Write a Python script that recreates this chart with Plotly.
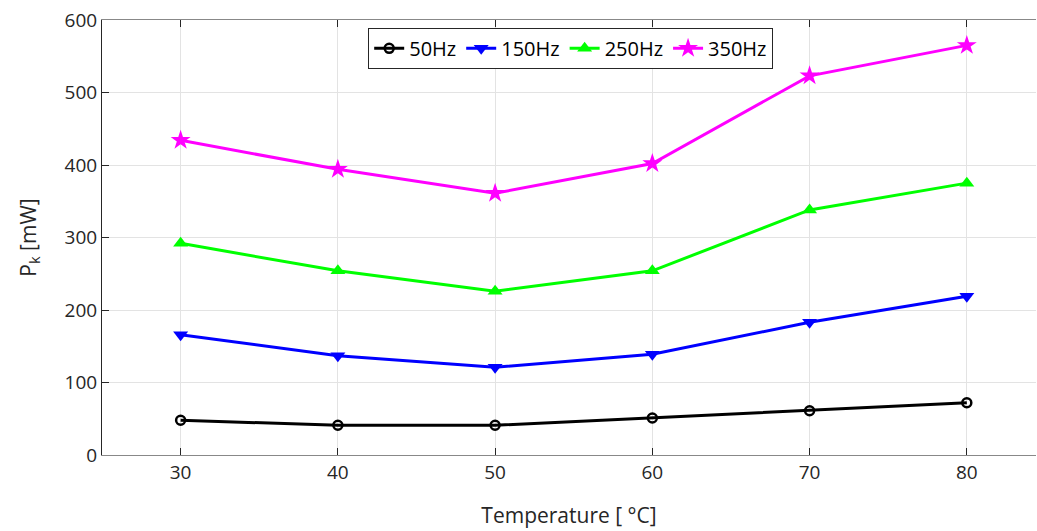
import plotly.graph_objects as go

temps = [30, 40, 50, 60, 70, 80]
p50 = [48, 41, 41, 51, 61, 72]
p150 = [166, 137, 121, 139, 183, 219]
p250 = [292, 254, 226, 254, 338, 375]
p350 = [434, 394, 361, 402, 523, 565]

names = ["50Hz", "150Hz", "250Hz", "350Hz"]
series = [p50, p150, p250, p350]
colors = ["#000000", "#0000ff", "#00ff00", "#ff00ff"]
symbols = ["circle-open", "triangle-down", "triangle-up", "star"]
sizes = [9, 13, 13, 15]

fig = go.Figure()
for n, s, c, sym, sz in zip(names, series, colors, symbols, sizes):
    fig.add_trace(go.Scatter(
        x=temps, y=s, name=n, mode="lines+markers",
        line=dict(color=c, width=3),
        marker=dict(symbol=sym, size=sz, color=c,
                    line=dict(color=c, width=2.5 if sym == "circle-open" else 0)),
    ))

fig.update_layout(
    width=1037, height=531,
    margin=dict(l=102, r=1, t=20, b=76),
    plot_bgcolor="white", paper_bgcolor="white",
    font=dict(family="Open Sans", size=18, color="#262626"),
    showlegend=True,
    legend=dict(orientation="h", x=0.285, y=0.982, xanchor="left", yanchor="top",
                bgcolor="white", bordercolor="#262626", borderwidth=1,
                font=dict(size=20, color="#000000"),
                tracegroupgap=0),
)
fig.update_xaxes(
    range=[25, 84.4], tickvals=temps, showgrid=True, gridcolor="#e3e3e3", gridwidth=1,
    showline=True, linecolor="#888888", linewidth=1, mirror="ticks",
    ticks="inside", ticklen=7, tickcolor="#262626", zeroline=False,
    tickfont=dict(size=19),
    title=dict(text="Temperature [ °C]", font=dict(size=21), standoff=24),
)
fig.update_yaxes(
    range=[0, 600], tickvals=[0, 100, 200, 300, 400, 500, 600],
    showgrid=True, gridcolor="#e3e3e3", gridwidth=1,
    showline=True, linecolor="#262626", linewidth=1,
    ticks="inside", ticklen=7, tickcolor="#262626", zeroline=False,
    tickfont=dict(size=19),
    title=dict(text="P<sub>k</sub> [mW]", font=dict(size=21), standoff=22),
)

fig.write_html(
    "out.html",
    config={"displayModeBar": False},
    post_script="document.body.style.margin='0';document.body.style.overflow='hidden';",
)
